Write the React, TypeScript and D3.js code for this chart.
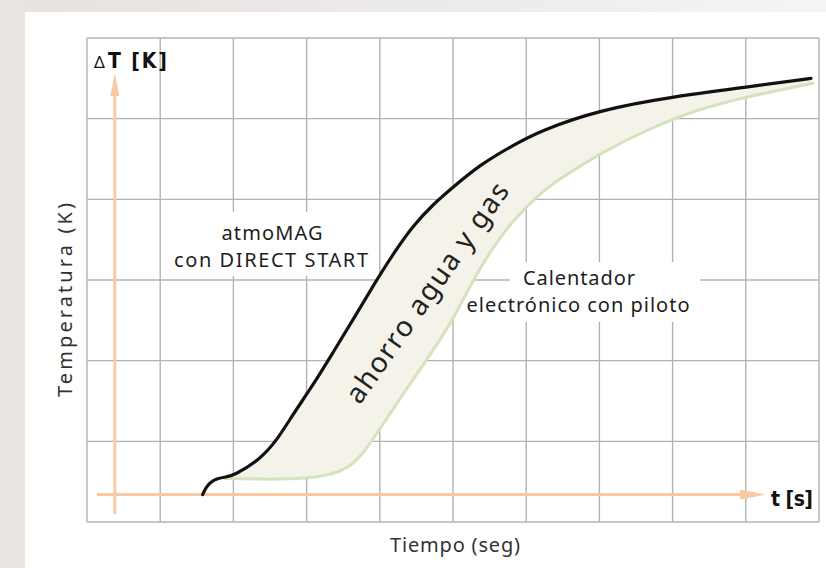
import React from "react";
import * as d3 from "d3";

// Curve values in grid units (x: time columns 0..10, y: temperature rows 0..6)
const atmoX = [1.58, 1.62, 1.68, 1.78, 1.9, 1.99, 2.36, 2.6, 2.81, 3.09, 3.36, 3.63, 3.91, 4.18, 4.45, 4.73, 5.0, 5.37, 5.82, 6.19, 7.01, 7.99, 9.0, 9.89];
const atmoY = [0.34, 0.42, 0.49, 0.54, 0.56, 0.57, 0.77, 1.02, 1.33, 1.7, 2.1, 2.5, 2.93, 3.32, 3.67, 3.94, 4.15, 4.43, 4.67, 4.85, 5.11, 5.27, 5.39, 5.5];
const pilotX = [1.88, 2.3, 3.01, 3.5, 3.75, 4.14, 4.64, 5.0, 5.27, 5.55, 5.82, 6.19, 6.5, 7.01, 7.64, 8.32, 9.0, 9.92];
const pilotY = [0.54, 0.53, 0.53, 0.62, 0.8, 1.35, 2.01, 2.5, 3.0, 3.41, 3.74, 4.08, 4.28, 4.57, 4.86, 5.11, 5.27, 5.44];

const xDomain = [0, 10];
const yDomain = [0, 6];
const axisOriginX = 0.38;
const axisOriginY = 0.34;

const labelAtmo = ["atmoMAG", "con DIRECT START"];
const labelPilot = ["Calentador", "electrónico con piloto"];
const labelSaving = "ahorro agua y gas";
const yTitle = "Temperatura (K)";
const xTitle = "Tiempo (seg)";
const yAxisLabel = "T [K]";
const xAxisLabel = "t [s]";

export default function App() {
  const W = 826, H = 568;
  const x = d3.scaleLinear().domain(xDomain).range([87, 819]);
  const y = d3.scaleLinear().domain(yDomain).range([522, 38]);

  const atmo = atmoX.map((v, i) => [v, atmoY[i]] as [number, number]);
  const pilot = pilotX.map((v, i) => [v, pilotY[i]] as [number, number]);

  const line = d3
    .line<[number, number]>()
    .x((d) => x(d[0]))
    .y((d) => y(d[1]))
    .curve(d3.curveBasis);

  const atmoFill = atmo.filter((d) => d[0] >= 1.9);
  const fillPath =
    (line(atmoFill) || "") +
    "L" +
    (line(pilot.slice().reverse()) || "").slice(1) +
    "Z";

  const gx = x.ticks(10);
  const gy = y.ticks(6);

  const ox = x(axisOriginX);
  const oy = y(axisOriginY);
  const orange = "#f9c9a1";
  const textFont = "'Noto Sans', 'Open Sans', sans-serif";
  const boldFont = "'DejaVu Sans Condensed', 'DejaVu Sans', sans-serif";

  return (
    <div style={{ position: "absolute", left: 0, top: 0 }}>
      <svg width={W} height={H} style={{ display: "block" }}>
        <defs>
          <linearGradient id="topg" x1="0" x2="1" y1="0" y2="0">
            <stop offset="0" stopColor="#e6e2e0" />
            <stop offset="0.6" stopColor="#eeeceb" />
            <stop offset="1" stopColor="#f5f5f5" />
          </linearGradient>
        </defs>
        <rect x={0} y={0} width={W} height={H} fill="#ffffff" />
        <rect x={0} y={0} width={W} height={12} fill="url(#topg)" />
        <rect x={0} y={0} width={25} height={H} fill="#e7e4e2" />

        {/* grid */}
        <g stroke="#b3b3b3" strokeWidth={1.4}>
          {gx.map((t) => (
            <line key={"gx" + t} x1={x(t)} x2={x(t)} y1={y(yDomain[1])} y2={y(yDomain[0])} />
          ))}
          {gy.map((t) => (
            <line key={"gy" + t} x1={x(xDomain[0])} x2={x(xDomain[1])} y1={y(t)} y2={y(t)} />
          ))}
        </g>

        {/* white label backgrounds */}
        <rect x={166} y={212} width={206} height={64} fill="#fff" />
        <rect x={510} y={262} width={190} height={30} fill="#fff" />
        <rect x={461} y={292} width={239} height={30} fill="#fff" />

        {/* orange axes */}
        <line x1={ox} x2={ox} y1={514} y2={92} stroke={orange} strokeWidth={3} />
        <path d={`M${ox - 4.5},${96} L${ox},${73} L${ox + 4.5},${96} Z`} fill={orange} />
        <line x1={97} x2={744} y1={oy} y2={oy} stroke={orange} strokeWidth={3} />
        <path d={`M${740},${oy - 5} L${766},${oy} L${740},${oy + 5} Z`} fill={orange} />

        {/* saving area */}
        <path d={fillPath} fill="#f5f3e9" stroke="none" />
        <path d={line(pilot) || ""} fill="none" stroke="#d4e3bd" strokeWidth={3} strokeLinecap="round" />
        <path d={line(atmo) || ""} fill="none" stroke="#111" strokeWidth={3.2} strokeLinecap="round" />

        {/* curve labels */}
        <g fontFamily={textFont} fontSize={20} fill="#1e1e1e" textAnchor="middle">
          <text x={272} y={240} textLength={101} lengthAdjust="spacing">{labelAtmo[0]}</text>
          <text x={271} y={267} textLength={194} lengthAdjust="spacing">{labelAtmo[1]}</text>
          <text x={579} y={285} textLength={112} lengthAdjust="spacing">{labelPilot[0]}</text>
          <text x={578} y={312} textLength={223} lengthAdjust="spacing">{labelPilot[1]}</text>
        </g>
        <text
          transform={`translate(426,292) rotate(-55)`}
          fontFamily={textFont}
          fontSize={28}
          fill="#222"
          textAnchor="middle"
          dominantBaseline="central"
          textLength={262}
          lengthAdjust="spacing"
        >
          {labelSaving}
        </text>

        {/* axis labels */}
        <text x={94} y={68} fontFamily={textFont} fontSize={17} fill="#111">Δ</text>
        <text x={108} y={68} fontFamily={boldFont} fontWeight="bold" fontSize={21} fill="#111" textLength={59} lengthAdjust="spacing">{yAxisLabel}</text>
        <text x={771} y={506} fontFamily={boldFont} fontWeight="bold" fontSize={21} fill="#111" textLength={42} lengthAdjust="spacing">{xAxisLabel}</text>

        <text x={455} y={552} fontFamily={textFont} fontSize={20} fill="#333" textAnchor="middle" textLength={130} lengthAdjust="spacing">{xTitle}</text>
        <text transform="translate(72,300) rotate(-90)" fontFamily={textFont} fontSize={20} fill="#333" textAnchor="middle" textLength={194} lengthAdjust="spacing">{yTitle}</text>
      </svg>
    </div>
  );
}
